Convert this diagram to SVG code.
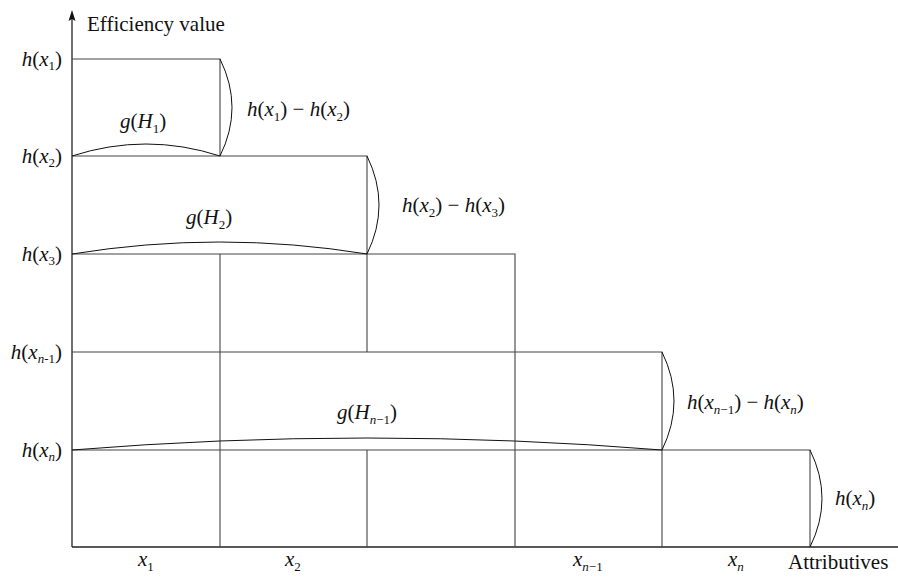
<svg xmlns="http://www.w3.org/2000/svg" width="898" height="577" viewBox="0 0 898 577">
<style>
.ln{stroke:#444;stroke-width:1.1;fill:none}
.ax{stroke:#222;stroke-width:1.3;fill:none}
.br{stroke:#111;stroke-width:1;fill:none}
text{font-family:"Liberation Serif","Times New Roman",serif;font-size:21px;fill:#111}
.i{font-style:italic}
.s{font-size:13px}
</style>
<rect width="898" height="577" fill="#fff"/>
<g id="axes">
<line class="ax" x1="72" y1="547" x2="72" y2="18"/>
<polygon points="72,10 75.5,21 72,19 68.5,21" fill="#111"/>
<line class="ax" x1="72" y1="547" x2="898" y2="547"/>
<text x="87" y="31">Efficiency value</text>
<text x="788" y="569">Attributives</text>
</g>
<g id="grid">
<polyline class="ln" points="72,59 220,59 220,156"/>
<line class="ln" x1="220" y1="254" x2="220" y2="547"/>
<polyline class="ln" points="72,156 367,156 367,352"/>
<line class="ln" x1="367" y1="450" x2="367" y2="547"/>
<polyline class="ln" points="72,254 515,254 515,547"/>
<polyline class="ln" points="72,352 662,352 662,547"/>
<polyline class="ln" points="72,450 810,450 810,547"/>
</g>
<g id="connectors">
<path class="br" d="M220,59 Q244,107.5 220,156"/>
<path class="br" d="M367,156 Q391,205 367,254"/>
<path class="br" d="M662,352 Q686,401 662,450"/>
<path class="br" d="M810,450 Q834,498.5 810,547"/>
<path class="br" d="M72,156 Q146,132 220,156"/>
<path class="br" d="M72,254 Q219.5,230 367,254"/>
<path class="br" d="M72,450 Q367,426 662,450"/>
</g>
<g id="ylabels">
<text x="62" y="66" text-anchor="end"><tspan class="i">h</tspan>(<tspan class="i">x</tspan><tspan class="s" dy="4">1</tspan><tspan dy="-4">)</tspan></text>
<text x="62" y="163" text-anchor="end"><tspan class="i">h</tspan>(<tspan class="i">x</tspan><tspan class="s" dy="4">2</tspan><tspan dy="-4">)</tspan></text>
<text x="62" y="261" text-anchor="end"><tspan class="i">h</tspan>(<tspan class="i">x</tspan><tspan class="s" dy="4">3</tspan><tspan dy="-4">)</tspan></text>
<text x="62" y="359" text-anchor="end"><tspan class="i">h</tspan>(<tspan class="i">x</tspan><tspan class="s i" dy="4">n</tspan><tspan class="s">-1</tspan><tspan dy="-4">)</tspan></text>
<text x="62" y="457" text-anchor="end"><tspan class="i">h</tspan>(<tspan class="i">x</tspan><tspan class="s i" dy="4">n</tspan><tspan dy="-4">)</tspan></text>
</g>
<g id="diffs">
<text x="247" y="116"><tspan class="i">h</tspan>(<tspan class="i">x</tspan><tspan class="s" dy="5">1</tspan><tspan dy="-5">) − </tspan><tspan class="i">h</tspan>(<tspan class="i">x</tspan><tspan class="s" dy="5">2</tspan><tspan dy="-5">)</tspan></text>
<text x="402" y="212"><tspan class="i">h</tspan>(<tspan class="i">x</tspan><tspan class="s" dy="5">2</tspan><tspan dy="-5">) − </tspan><tspan class="i">h</tspan>(<tspan class="i">x</tspan><tspan class="s" dy="5">3</tspan><tspan dy="-5">)</tspan></text>
<text x="687" y="409"><tspan class="i">h</tspan>(<tspan class="i">x</tspan><tspan class="s i" dy="5">n</tspan><tspan class="s">−1</tspan><tspan dy="-5">) − </tspan><tspan class="i">h</tspan>(<tspan class="i">x</tspan><tspan class="s i" dy="5">n</tspan><tspan dy="-5">)</tspan></text>
<text x="835" y="505"><tspan class="i">h</tspan>(<tspan class="i">x</tspan><tspan class="s i" dy="5">n</tspan><tspan dy="-5">)</tspan></text>
</g>
<g id="glabels">
<text x="120" y="128"><tspan class="i">g</tspan>(<tspan class="i">H</tspan><tspan class="s" dy="5">1</tspan><tspan dy="-5">)</tspan></text>
<text x="186" y="224"><tspan class="i">g</tspan>(<tspan class="i">H</tspan><tspan class="s" dy="5">2</tspan><tspan dy="-5">)</tspan></text>
<text x="367" y="419" text-anchor="middle"><tspan class="i">g</tspan>(<tspan class="i">H</tspan><tspan class="s i" dy="5">n</tspan><tspan class="s">−1</tspan><tspan dy="-5">)</tspan></text>
</g>
<g id="xlabels">
<text x="138" y="566"><tspan class="i">x</tspan><tspan class="s" dy="5">1</tspan></text>
<text x="285" y="566"><tspan class="i">x</tspan><tspan class="s" dy="5">2</tspan></text>
<text x="573" y="566"><tspan class="i">x</tspan><tspan class="s i" dy="5">n</tspan><tspan class="s">−1</tspan></text>
<text x="728" y="566"><tspan class="i">x</tspan><tspan class="s i" dy="5">n</tspan></text>
</g>
</svg>
